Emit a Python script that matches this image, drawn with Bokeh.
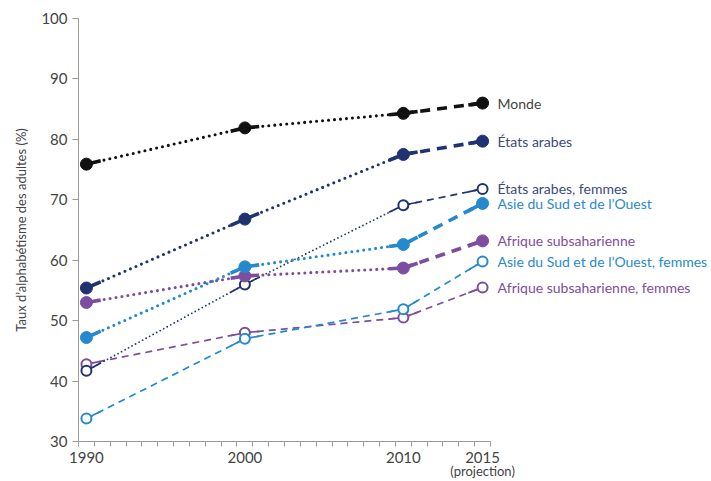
from bokeh.plotting import figure
from bokeh.models import Range1d, FixedTicker, LinearAxis
from bokeh.core.properties import value
from bokeh.embed import file_html
from bokeh.resources import INLINE

years = [1990, 2000, 2010, 2015]
year_labels = {1990: "1990", 2000: "2000", 2010: "2010", 2015: "2015"}
projection_note = "(projection)"

monde = [75.9, 81.9, 84.3, 86.0]
etats_arabes = [55.4, 66.8, 77.5, 79.7]
etats_arabes_f = [41.7, 56.0, 69.1, 71.8]
asie = [47.2, 58.9, 62.6, 69.4]
afrique = [53.0, 57.4, 58.7, 63.2]
asie_f = [33.8, 47.0, 51.9, 59.8]
afrique_f = [42.8, 48.0, 50.5, 55.5]

names = ["Monde", "États arabes", "États arabes, femmes",
         "Asie du Sud et de l’Ouest", "Afrique subsaharienne",
         "Asie du Sud et de l’Ouest, femmes", "Afrique subsaharienne, femmes"]

BLACK = "#111111"
NAVY = "#1f3370"
BLUE = "#2589cd"
PURPLE = "#7d4e9f"

series = [
    (afrique_f, PURPLE, "#7d4e9f", False, ["dash", "dash", "dash"], names[6]),
    (asie_f, BLUE, "#2a89cc", False, ["dash", "dash", "dash"], names[5]),
    (etats_arabes_f, NAVY, "#3c4a7e", False, ["dot", "dot", "dash"], names[2]),
    (afrique, PURPLE, "#7d4e9f", True, ["dot", "dot", "dash"], names[4]),
    (asie, BLUE, "#2a89cc", True, ["dot", "dot", "dash"], names[3]),
    (etats_arabes, NAVY, "#3c4a7e", True, ["dot", "dot", "dash"], names[1]),
    (monde, BLACK, "#444444", True, ["dot", "dot", "dash"], names[0]),
]

FONT = "Lato"
W, H = 711, 481
LEFT, TOP, BOTTOM = 78, 18, 39
axis_px = 412.0
x0, x1 = 1989.5, 2015.5
x_end = x0 + (W - LEFT) * (x1 - x0) / axis_px

p = figure(width=W, height=H, output_backend="svg", toolbar_location=None,
           x_range=Range1d(x0, x_end), y_range=Range1d(30, 100),
           min_border_left=LEFT, min_border_top=TOP, min_border_bottom=BOTTOM,
           min_border_right=0)
p.outline_line_color = None
p.grid.visible = False
p.background_fill_color = "white"

AX = "#9a9a9a"
xa = p.xaxis[0]
minor = [x0 + i for i in range(int(x1 - x0) + 1)]
xa.ticker = FixedTicker(ticks=years, minor_ticks=minor)
xa.major_label_overrides = year_labels
xa.bounds = (x0, x1)
xa.axis_line_color = AX
xa.major_tick_line_color = None
xa.major_tick_out = 0
xa.major_tick_in = 0
xa.minor_tick_line_color = AX
xa.minor_tick_out = 5
xa.minor_tick_in = 0
xa.major_label_standoff = 5
xa.major_label_text_font = FONT
xa.major_label_text_font_size = "15px"
xa.major_label_text_color = "#444444"

# second row of x labels: "(projection)" under 2015
xa2 = LinearAxis(ticker=FixedTicker(ticks=[years[-1]], minor_ticks=[]),
                 major_label_overrides={years[-1]: projection_note},
                 axis_line_color=None, major_tick_line_color=None,
                 minor_tick_line_color=None, major_tick_out=0, major_tick_in=0,
                 major_label_standoff=-3, major_label_text_font=FONT,
                 major_label_text_font_size="13px",
                 major_label_text_color="#444444")
p.add_layout(xa2, "below")

ya = p.yaxis[0]
ya.ticker = FixedTicker(ticks=list(range(30, 101, 10)), minor_ticks=[])
ya.axis_line_color = AX
ya.major_tick_line_color = AX
ya.major_tick_out = 6
ya.major_tick_in = 0
ya.minor_tick_line_color = None
ya.major_label_standoff = 5
ya.major_label_text_font = FONT
ya.major_label_text_font_size = "15px"
ya.major_label_text_color = "#444444"
ya.axis_label = "Taux d’alphabétisme des adultes (%)"
ya.axis_label_text_font = FONT
ya.axis_label_text_font_size = "13px"
ya.axis_label_text_font_style = "normal"
ya.axis_label_text_color = "#444444"
ya.axis_label_standoff = 9

STUB = 0.9  # years of solid line next to each marker

for vals, col, lcol, thick, styles, name in series:
    lw = 3.6 if thick else 1.7
    for i in range(3):
        xa_, xb_ = years[i], years[i + 1]
        ya_, yb_ = vals[i], vals[i + 1]
        if styles[i] == "dot":
            dash = "0 6" if thick else "0 4"
            cap = "round"
            dw = 3.1 if thick else 1.8
        else:
            dash = "10 7" if thick else "7 5"
            cap = "butt"
            dw = lw
        p.line([xa_, xb_], [ya_, yb_], line_color=col, line_width=dw,
               line_dash=dash, line_cap=cap)
        t = STUB / (xb_ - xa_)
        p.line([xa_, xa_ + t * (xb_ - xa_)], [ya_, ya_ + t * (yb_ - ya_)],
               line_color=col, line_width=lw)
        p.line([xb_ - t * (xb_ - xa_), xb_], [yb_ - t * (yb_ - ya_), yb_],
               line_color=col, line_width=lw)
    if thick:
        p.scatter(years, vals, size=12, marker="circle", fill_color=col,
                  line_color=col, line_width=1)
    else:
        p.scatter(years, vals, size=10, marker="circle", fill_color="white",
                  line_color=col, line_width=2)
    p.text(x=[years[-1]], y=[vals[-1]], text=[name], x_offset=15,
           text_baseline="middle", text_align="left", text_color=lcol,
           text_font=value(FONT), text_font_size="14px")

open("out.html", "w").write(file_html(p, INLINE))
